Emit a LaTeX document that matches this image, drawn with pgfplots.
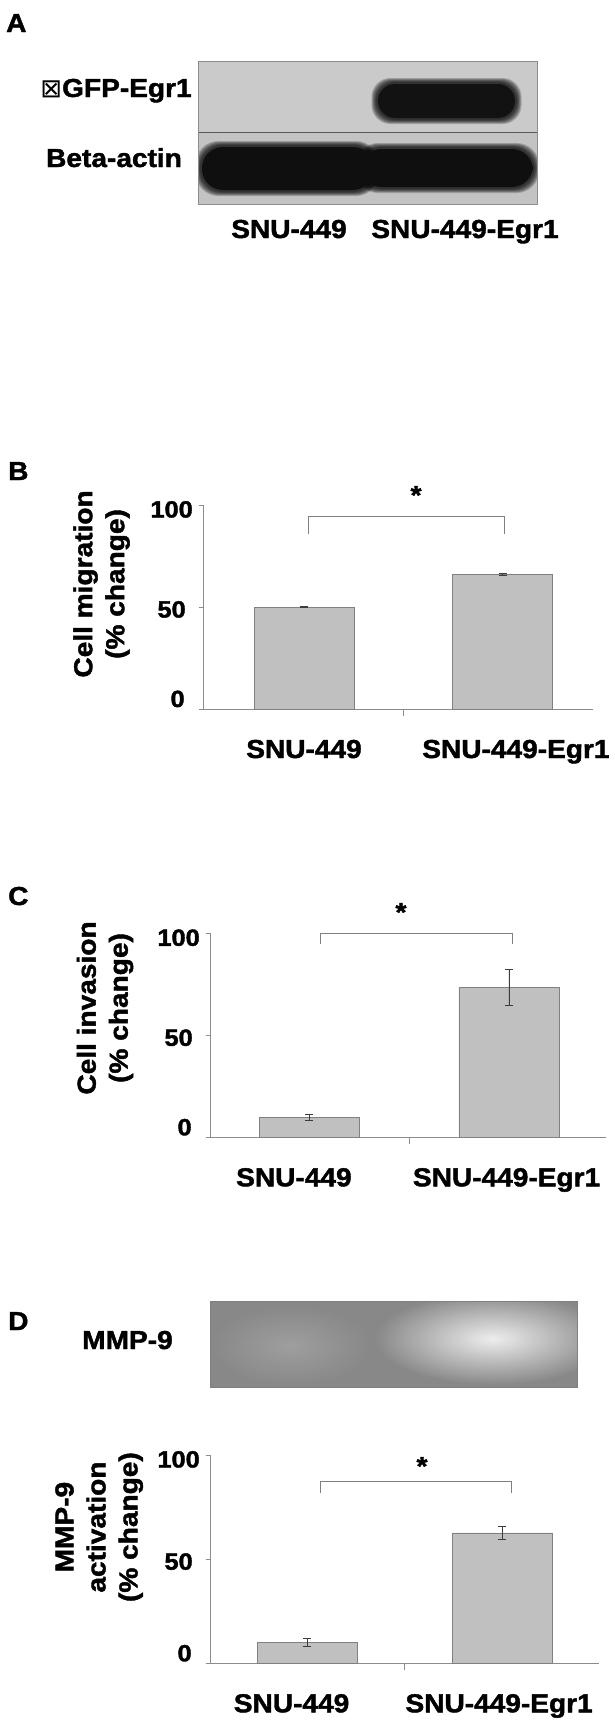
\documentclass[border=0pt]{standalone}
\usepackage{pgfplots}
\pgfplotsset{compat=1.18}
\usepackage{fontspec}
\setmainfont{Liberation Sans}[FakeStretch=1.08, BoldFeatures={FakeBold=1.6}]
\newfontfamily\dejavu{DejaVu Sans}

\definecolor{axgray}{HTML}{8C8C8C}
\definecolor{barfill}{HTML}{C0C0C0}
\definecolor{baredge}{HTML}{808080}
\definecolor{errc}{HTML}{3C3C3C}
\definecolor{blotbg}{HTML}{C3C3C3}
\definecolor{blottop}{HTML}{CACACA}
\definecolor{gelbg}{HTML}{888888}
\newcommand{\lab}{\bfseries\fontsize{26}{32}\selectfont}
\newcommand{\tl}[3]{\raisebox{#1}[0pt][0pt]{\makebox[0pt][c]{\hspace*{#2}#3}}}

\tikzset{bracket/.style={baredge, line width=1pt}}
\pgfplotsset{
  panel/.style={
    scale only axis, anchor=south west, clip=false,
    ybar, bar width=100pt,
    ymin=0, ymax=100, ytick={0,50,100},
    axis x line*=bottom, axis y line*=left,
    axis line style={-, axgray, line width=1pt},
    tick align=outside,
    major tick length=5pt, minor tick length=7pt,
    ytick style={axgray, line width=1pt},
    major x tick style={draw=none},
    minor x tick style={axgray, line width=1pt},
    minor xtick={0.5},
    xticklabels={SNU-449,SNU-449-Egr1},
    yticklabel={\ifcase\ticknum\tl{2pt}{12pt}{0}\or\tl{-10.5pt}{0pt}{50}\or\tl{-12.5pt}{0pt}{100}\fi},
    ticklabel style={font=\bfseries\fontsize{23.5}{28}\selectfont},
    yticklabel style={anchor=center, inner sep=0pt, xshift=-27pt},
    xticklabel style={font=\lab, anchor=base, yshift=-44pt},
    ylabel style={font=\lab, align=center, anchor=center},
    error bars/error bar style={errc, line width=0.8pt},
    error bars/error mark options={errc, rotate=90, mark size=4pt, line width=0.8pt},
  },
  bars/.style={fill=barfill, draw=baredge, line width=0.8pt,
    error bars/.cd, y dir=both, y explicit},
}

\begin{document}
\begin{tikzpicture}
\useasboundingbox (0,0) rectangle (614pt,-1727pt);

% panel letters
\node[anchor=base west, inner sep=0] at (6pt,-32pt) {\lab A};
\node[anchor=base west, inner sep=0] at (8pt,-480pt) {\lab B};
\node[anchor=base west, inner sep=0] at (8pt,-905pt) {\lab C};
\node[anchor=base west, inner sep=0] at (8pt,-1330pt) {\lab D};

% A: western blot
\begin{axis}[hide axis, scale only axis, anchor=south west, at={(198pt,-204pt)},
  width=339pt, height=143pt, xmin=0, xmax=339, ymin=0, ymax=143, clip=false]
\fill[blotbg] (axis cs:0,0) rectangle (axis cs:339,143);
\fill[blottop] (axis cs:0,72) rectangle (axis cs:339,143);
\begin{scope}
\clip (axis cs:0,0) rectangle (axis cs:339,143);
\pgfplotsinvokeforeach{0,1,2,3,4,5}{
  \fill[black, opacity=0.2, rounded corners=19pt]
    (axis cs:{178-(5-#1)*0.9},{84-(5-#1)*0.8}) rectangle (axis cs:{319+(5-#1)*0.9},{122+(5-#1)*0.8});
  \fill[black, opacity=0.2, rounded corners=23pt]
    (axis cs:{2-(5-#1)*0.9},{12-(5-#1)*0.8}) rectangle (axis cs:{178+(5-#1)*0.6},{59+(5-#1)*0.8});
  \fill[black, opacity=0.2, rounded corners=23pt]
    (axis cs:{160-(5-#1)*0.6},{15-(5-#1)*0.8}) rectangle (axis cs:{337+(5-#1)*0.9},{57+(5-#1)*0.8});
}
\fill[black!93, rounded corners=17pt] (axis cs:180,86) rectangle (axis cs:317,120);
\fill[black!94, rounded corners=21pt] (axis cs:4,14) rectangle (axis cs:176,57);
\fill[black!94, rounded corners=21pt] (axis cs:162,17) rectangle (axis cs:335,55);
\end{scope}
\draw[black!65, line width=1pt] (axis cs:0,72) -- (axis cs:339,72);
\draw[black!45, line width=0.8pt] (axis cs:0,0) rectangle (axis cs:339,143);
\end{axis}
\node[anchor=base, inner sep=0] at (116pt,-97pt) {\lab{\dejavu\mdseries ⊠}GFP-Egr1};
\node[anchor=base, inner sep=0] at (114pt,-167pt) {\lab Beta-actin};
\node[anchor=base, inner sep=0] at (289pt,-238pt) {\lab SNU-449};
\node[anchor=base, inner sep=0] at (465pt,-238pt) {\lab SNU-449-Egr1};

% B: cell migration
\begin{axis}[panel, at={(203.6pt,-709pt)}, width=389.4pt, height=204pt,
  xmin=-0.5055, xmax=1.455, xtick={0,1.067},
  ylabel={Cell migration\\(\% change)},
  ylabel style={at={(axis description cs:-0.262,0.613)}}]
\addplot[bars] coordinates {(0,50) +- (0,0.3) (1,66) +- (0,0.6)};
\draw[bracket] (axis cs:0.025,85.6) -- (axis cs:0.025,94.3) -- (axis cs:1.007,94.3) -- (axis cs:1.007,85.6);
\node[anchor=base, inner sep=0, font=\lab] at (axis cs:0.564,100.5) {*};
\end{axis}

% C: cell invasion
\begin{axis}[panel, at={(210.6pt,-1137.3pt)}, width=395.4pt, height=204pt,
  xmin=-0.4945, xmax=1.486, xtick={-0.077,0.988},
  ylabel={Cell invasion\\(\% change)},
  ylabel style={at={(axis description cs:-0.267,0.634)}}]
\addplot[bars] coordinates {(0,9.8) +- (0,1.5) (1,73.5) +- (0,8.8)};
\draw[bracket] (axis cs:0.054,94.6) -- (axis cs:0.054,100) -- (axis cs:1.016,100) -- (axis cs:1.016,94.6);
\node[anchor=base, inner sep=0, font=\lab] at (axis cs:0.459,106) {*};
\end{axis}

% D: zymography gel
\begin{axis}[hide axis, scale only axis, anchor=south west, at={(210.6pt,-1387.7pt)},
  width=367pt, height=86pt, xmin=0, xmax=367, ymin=0, ymax=86, clip=false]
\fill[gelbg] (axis cs:0,0) rectangle (axis cs:367,86);
\begin{scope}
\clip (axis cs:0,0) rectangle (axis cs:367,86);
\shade[inner color=white!62!black, outer color=gelbg] (axis cs:80,42) ellipse [x radius=80pt, y radius=40pt];
\shade[inner color=white!93!black, outer color=gelbg] (axis cs:282,49) ellipse [x radius=118pt, y radius=46pt];
\end{scope}
\draw[black!50, line width=0.8pt] (axis cs:0,0) rectangle (axis cs:367,86);
\end{axis}
\node[anchor=base, inner sep=0] at (127.5pt,-1349pt) {\lab MMP-9};

% D: MMP-9 activation
\begin{axis}[panel, at={(210.6pt,-1663.3pt)}, width=388.4pt, height=208.3pt,
  xmin=-0.497, xmax=1.498, xtick={-0.081,0.985},
  ylabel={MMP-9\\activation\\(\% change)},
  ylabel style={at={(axis description cs:-0.287,0.654)}}]
\addplot[bars] coordinates {(0,10) +- (0,1.8) (1,62.6) +- (0,3.2)};
\draw[bracket] (axis cs:0.066,81.6) -- (axis cs:0.066,87.2) -- (axis cs:1.051,87.2) -- (axis cs:1.051,81.6);
\node[anchor=base, inner sep=0, font=\lab] at (axis cs:0.589,90.4) {*};
\end{axis}
\end{tikzpicture}
\end{document}
